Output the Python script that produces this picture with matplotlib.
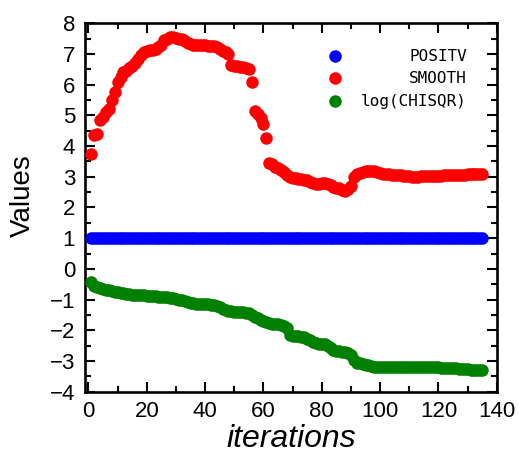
import matplotlib
matplotlib.use("Agg")
import matplotlib.pyplot as plt
from matplotlib.ticker import MultipleLocator

plt.rcParams['font.family'] = ['Liberation Sans', 'DejaVu Sans']

iterations = list(range(1, 136))

positv = [1.0] * 135

smooth = [
    3.73, 4.35, 4.40, 4.85, 4.95, 5.10, 5.20, 5.50, 5.75, 6.10,
    6.25, 6.40, 6.45, 6.55, 6.62, 6.72, 6.85, 6.98, 7.05, 7.10,
    7.12, 7.14, 7.16, 7.22, 7.30, 7.45, 7.50, 7.55, 7.55, 7.53,
    7.50, 7.47, 7.42, 7.35, 7.32, 7.30, 7.30, 7.29, 7.28, 7.28,
    7.27, 7.26, 7.25, 7.22, 7.15, 7.10, 7.05, 7.00, 6.65, 6.62,
    6.60, 6.58, 6.56, 6.54, 6.50, 6.10, 5.15, 5.05, 4.90, 4.72,
    4.25, 3.45, 3.40, 3.33, 3.27, 3.22, 3.16, 3.05, 3.00, 2.97,
    2.95, 2.94, 2.93, 2.91, 2.88, 2.83, 2.79, 2.77, 2.78, 2.80,
    2.79, 2.77, 2.72, 2.68, 2.65, 2.62, 2.58, 2.55, 2.60, 2.70,
    3.00, 3.10, 3.12, 3.15, 3.18, 3.20, 3.20, 3.18, 3.15, 3.12,
    3.10, 3.10, 3.08, 3.06, 3.05, 3.05, 3.05, 3.04, 3.04, 3.02,
    3.00, 3.00, 3.00, 3.02, 3.04, 3.04, 3.04, 3.04, 3.04, 3.04,
    3.04, 3.05, 3.05, 3.06, 3.07, 3.07, 3.06, 3.06, 3.07, 3.08,
    3.10, 3.09, 3.08, 3.09, 3.08,
]

log_chisqr = [
    -0.43, -0.55, -0.60, -0.63, -0.66, -0.68, -0.70, -0.72, -0.74, -0.76,
    -0.78, -0.80, -0.82, -0.83, -0.84, -0.85, -0.85, -0.86, -0.86, -0.87,
    -0.87, -0.88, -0.89, -0.90, -0.91, -0.92, -0.93, -0.94, -0.96, -0.98,
    -1.00, -1.02, -1.05, -1.08, -1.10, -1.12, -1.13, -1.13, -1.14, -1.14,
    -1.15, -1.16, -1.18, -1.22, -1.25, -1.29, -1.33, -1.36, -1.38, -1.39,
    -1.40, -1.40, -1.41, -1.42, -1.44, -1.50, -1.56, -1.61, -1.65, -1.69,
    -1.72, -1.76, -1.78, -1.80, -1.81, -1.83, -1.87, -1.93, -2.15, -2.18,
    -2.19, -2.20, -2.21, -2.23, -2.27, -2.32, -2.37, -2.41, -2.43, -2.44,
    -2.45, -2.50, -2.58, -2.65, -2.67, -2.68, -2.69, -2.71, -2.74, -2.80,
    -2.95, -3.05, -3.08, -3.10, -3.12, -3.14, -3.16, -3.18, -3.19, -3.20,
    -3.21, -3.21, -3.20, -3.19, -3.19, -3.18, -3.18, -3.18, -3.18, -3.19,
    -3.19, -3.20, -3.20, -3.20, -3.20, -3.21, -3.21, -3.21, -3.21, -3.21,
    -3.22, -3.22, -3.22, -3.23, -3.23, -3.24, -3.25, -3.26, -3.27, -3.27,
    -3.28, -3.28, -3.29, -3.30, -3.30,
]

series_names = ["POSITV", "SMOOTH", "log(CHISQR)"]
series_colors = ["#0000ff", "#ff0000", "#008000"]
series_values = [positv, smooth, log_chisqr]

fig = plt.figure(figsize=(5.18, 4.55), dpi=100)
ax = fig.add_axes([0.164, 0.139, 0.795, 0.810])

ms = 9.0
for vals, col in zip(series_values, series_colors):
    ax.plot(iterations, vals, linestyle='none', marker='o', markersize=ms,
            markerfacecolor=col, markeredgewidth=0, color=col, zorder=3)

ax.set_xlim(-1.2, 140)
ax.set_ylim(-4, 8)
ax.xaxis.set_major_locator(MultipleLocator(20))
ax.xaxis.set_minor_locator(MultipleLocator(10))
ax.yaxis.set_major_locator(MultipleLocator(1))
ax.yaxis.set_minor_locator(MultipleLocator(0.5))

for s in ax.spines.values():
    s.set_linewidth(1.9)

ax.tick_params(which='both', direction='in', top=True, right=True, width=1.5)
ax.tick_params(which='major', length=7, labelsize=16)
ax.tick_params(axis='x', which='major', pad=7)
ax.tick_params(axis='y', which='major', pad=7)
ax.tick_params(which='minor', length=4.3)

ax.set_xlabel("iterations", fontsize=23, style='italic', va='baseline')
ax.xaxis.set_label_coords(0.5, -0.150)
ax.set_ylabel("Values", fontsize=20, va='center')
ax.yaxis.set_label_coords(-0.151, 0.531)

# legend (manual, right-aligned text)
leg_y = [0.911, 0.851, 0.788]
for name, col, yy in zip(series_names, series_colors, leg_y):
    ax.plot([0.607], [yy], transform=ax.transAxes, linestyle='none', marker='o',
            markersize=ms, markerfacecolor=col, markeredgewidth=0, clip_on=False)
    ax.text(0.928, yy, name, transform=ax.transAxes, ha='right', va='center',
            fontsize=11.5, family='DejaVu Sans Mono')

fig.savefig("out.png", dpi=100)
